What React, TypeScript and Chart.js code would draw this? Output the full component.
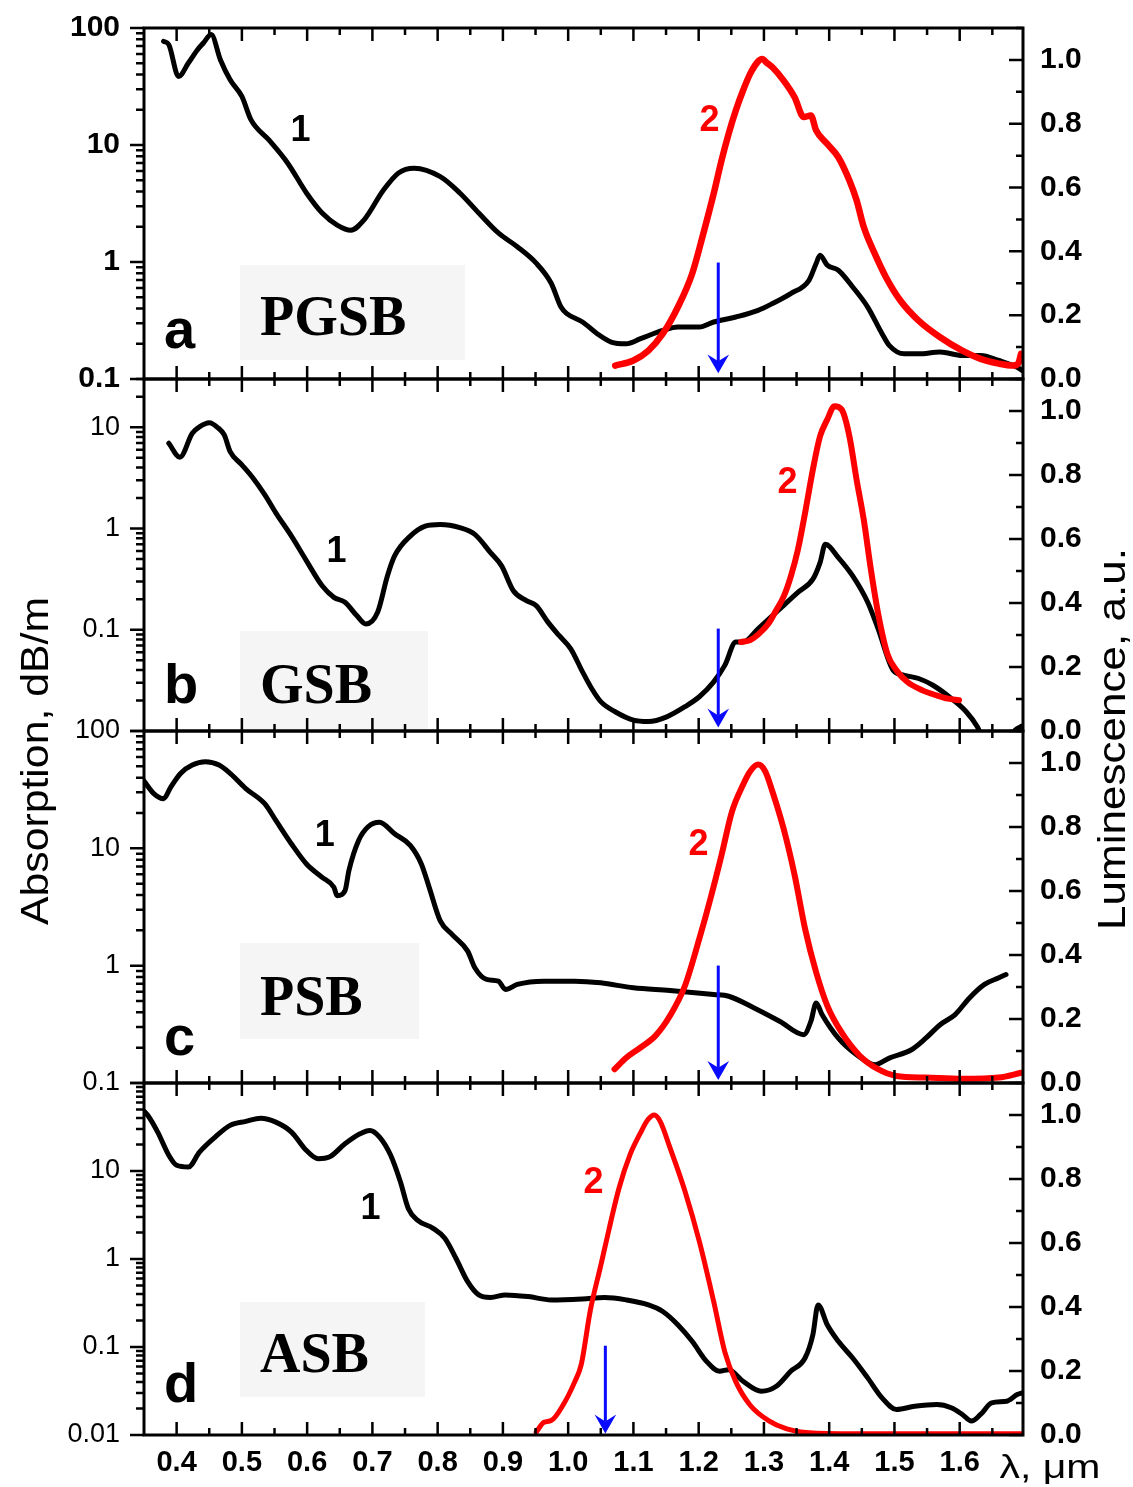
import React, { useEffect, useRef } from "react";
import { Chart, registerables } from "chart.js";

Chart.register(...registerables);

type Pt = [number, number];

// ---------------- data ----------------
const WAVELENGTH_TICKS = [0.4, 0.5, 0.6, 0.7, 0.8, 0.9, 1.0, 1.1, 1.2, 1.3, 1.4, 1.5, 1.6];
const LUM_TICKS = [0, 0.2, 0.4, 0.6, 0.8, 1.0];
const ABS_TICKS_A = [0.1, 1, 10, 100];
const ABS_TICKS_B = [0.1, 1, 10];
const ABS_TICKS_C = [0.1, 1, 10, 100];
const ABS_TICKS_D = [0.01, 0.1, 1, 10];
const SAMPLE_NAMES = ["PGSB", "GSB", "PSB", "ASB"];
const PANEL_LETTERS = ["a", "b", "c", "d"];

// curve 1: absorption (dB/m), curve 2: luminescence (a.u.)
const ABS_A: Pt[] = [
  [0.380, 76.9], [0.388, 72.1], [0.403, 38.5], [0.418, 50.2], [0.432, 65.3], [0.441, 74.5],
  [0.453, 87.8], [0.467, 53.6], [0.482, 36.1], [0.500, 26.0], [0.514, 16.4], [0.541, 11.1],
  [0.570, 7.02], [0.599, 3.89], [0.623, 2.62], [0.646, 2.07], [0.667, 1.87], [0.687, 2.28],
  [0.717, 4.12], [0.740, 5.77], [0.764, 6.33], [0.804, 5.36], [0.834, 3.89], [0.863, 2.62],
  [0.893, 1.77], [0.922, 1.35], [0.951, 0.977], [0.974, 0.658], [0.989, 0.412], [0.998, 0.362],
  [1.022, 0.307], [1.044, 0.245], [1.066, 0.207], [1.089, 0.200], [1.111, 0.221], [1.145, 0.260],
  [1.168, 0.278], [1.201, 0.278], [1.223, 0.307], [1.257, 0.339], [1.291, 0.386], [1.313, 0.441],
  [1.341, 0.537], [1.369, 0.698], [1.380, 0.971], [1.386, 1.143], [1.397, 0.939], [1.414, 0.851],
  [1.436, 0.612], [1.459, 0.412], [1.481, 0.244], [1.492, 0.194], [1.515, 0.164], [1.537, 0.164],
  [1.570, 0.170], [1.604, 0.159], [1.632, 0.159], [1.660, 0.144], [1.688, 0.126], [1.696, 0.118],
];
const LUM_A: Pt[] = [
  [1.072, 0.042], [1.100, 0.058], [1.123, 0.089], [1.145, 0.142], [1.168, 0.225], [1.190, 0.330],
  [1.207, 0.455], [1.223, 0.581], [1.235, 0.685], [1.246, 0.769], [1.257, 0.842], [1.268, 0.904],
  [1.279, 0.957], [1.291, 0.995], [1.297, 1.003], [1.305, 0.990], [1.313, 0.977], [1.330, 0.936],
  [1.347, 0.883], [1.361, 0.821], [1.372, 0.826], [1.380, 0.779], [1.397, 0.737], [1.414, 0.695],
  [1.431, 0.622], [1.442, 0.560], [1.453, 0.476], [1.470, 0.392], [1.487, 0.319], [1.509, 0.246],
  [1.537, 0.183], [1.570, 0.131], [1.604, 0.089], [1.632, 0.063], [1.660, 0.048], [1.682, 0.042],
  [1.690, 0.050], [1.694, 0.079],
];
const ABS_B: Pt[] = [
  [0.388, 6.96], [0.405, 5.07], [0.424, 8.73], [0.435, 10.1], [0.450, 11.1], [0.464, 9.8],
  [0.473, 8.4], [0.482, 5.75], [0.500, 4.26], [0.517, 3.16], [0.535, 2.16], [0.552, 1.43],
  [0.576, 0.841], [0.599, 0.479], [0.623, 0.272], [0.641, 0.209], [0.658, 0.187], [0.676, 0.138],
  [0.690, 0.114], [0.708, 0.149], [0.723, 0.340], [0.734, 0.536], [0.758, 0.841], [0.781, 1.057],
  [0.804, 1.097], [0.834, 1.02], [0.857, 0.875], [0.881, 0.578], [0.898, 0.428], [0.916, 0.243],
  [0.936, 0.194], [0.951, 0.173], [0.969, 0.119], [0.986, 0.0878], [1.004, 0.0649], [1.022, 0.0384],
  [1.036, 0.0263], [1.050, 0.0195], [1.072, 0.0155], [1.100, 0.0128], [1.123, 0.0124], [1.151, 0.0138],
  [1.179, 0.0174], [1.201, 0.0218], [1.223, 0.0306], [1.240, 0.0445], [1.257, 0.0755], [1.268, 0.0755],
  [1.291, 0.102], [1.324, 0.160], [1.352, 0.234], [1.375, 0.316], [1.386, 0.461], [1.394, 0.698],
  [1.414, 0.516], [1.436, 0.340], [1.459, 0.187], [1.475, 0.102], [1.498, 0.0398], [1.515, 0.0355],
  [1.537, 0.033], [1.559, 0.0283], [1.587, 0.021], [1.610, 0.0155], [1.627, 0.011], [1.635, 0.0085],
  [1.650, 0.006], [1.672, 0.007], [1.685, 0.0102], [1.696, 0.0112],
];
const LUM_B: Pt[] = [
  [1.265, 0.278], [1.279, 0.284], [1.293, 0.305], [1.307, 0.336], [1.319, 0.378], [1.330, 0.419],
  [1.341, 0.482], [1.352, 0.566], [1.363, 0.681], [1.375, 0.817], [1.386, 0.921], [1.397, 0.973],
  [1.408, 1.015], [1.419, 1.005], [1.431, 0.921], [1.442, 0.785], [1.453, 0.660], [1.464, 0.503],
  [1.475, 0.367], [1.489, 0.242], [1.503, 0.190], [1.520, 0.153], [1.543, 0.127], [1.565, 0.111],
  [1.582, 0.101], [1.599, 0.096],
];
const ABS_C: Pt[] = [
  [0.350, 37.5], [0.365, 29.3], [0.380, 26.5], [0.391, 33.3], [0.406, 43.5], [0.424, 51.2],
  [0.444, 54.6], [0.465, 51.2], [0.482, 43.5], [0.506, 32.3], [0.535, 24.0], [0.552, 17.3],
  [0.576, 10.9], [0.599, 7.36], [0.623, 5.66], [0.641, 4.65], [0.646, 3.95], [0.658, 4.35],
  [0.664, 6.46], [0.679, 11.7], [0.693, 15.2], [0.711, 16.7], [0.734, 13.3], [0.758, 10.6],
  [0.775, 7.36], [0.787, 4.65], [0.804, 2.41], [0.822, 1.85], [0.846, 1.33], [0.857, 0.96],
  [0.875, 0.763], [0.893, 0.738], [0.904, 0.627], [0.922, 0.692], [0.963, 0.738], [1.010, 0.738],
  [1.050, 0.714], [1.100, 0.647], [1.156, 0.615], [1.223, 0.568], [1.246, 0.549], [1.285, 0.436],
  [1.324, 0.336], [1.361, 0.258], [1.372, 0.336], [1.380, 0.481], [1.389, 0.383], [1.414, 0.241],
  [1.442, 0.174], [1.470, 0.143], [1.492, 0.163], [1.526, 0.192], [1.548, 0.241], [1.570, 0.314],
  [1.593, 0.383], [1.615, 0.531], [1.638, 0.692], [1.660, 0.788], [1.671, 0.841],
];
const LUM_C: Pt[] = [
  [1.071, 0.043], [1.089, 0.079], [1.111, 0.111], [1.134, 0.148], [1.156, 0.210], [1.179, 0.304],
  [1.201, 0.451], [1.218, 0.576], [1.235, 0.712], [1.251, 0.848], [1.268, 0.932], [1.279, 0.974],
  [1.291, 0.995], [1.302, 0.974], [1.313, 0.911], [1.330, 0.796], [1.347, 0.650], [1.363, 0.482],
  [1.380, 0.346], [1.397, 0.242], [1.419, 0.158], [1.447, 0.085], [1.475, 0.043], [1.503, 0.022],
  [1.548, 0.017], [1.604, 0.013], [1.660, 0.017], [1.694, 0.032],
];
const ABS_D: Pt[] = [
  [0.350, 48], [0.356, 42.8], [0.371, 27.7], [0.388, 15.1], [0.400, 11.6], [0.418, 11.1],
  [0.435, 16.4], [0.459, 24.3], [0.482, 33.0], [0.506, 36.6], [0.529, 39.8], [0.552, 35.9],
  [0.576, 27.7], [0.599, 17.1], [0.617, 13.8], [0.634, 14.4], [0.658, 20.4], [0.681, 26.5],
  [0.696, 28.9], [0.711, 24.3], [0.728, 15.1], [0.743, 7.50], [0.755, 3.75], [0.769, 2.77],
  [0.793, 2.23], [0.811, 1.72], [0.828, 1.02], [0.846, 0.553], [0.863, 0.391], [0.881, 0.365],
  [0.904, 0.391], [0.939, 0.374], [0.974, 0.343], [1.022, 0.352], [1.056, 0.365], [1.089, 0.343],
  [1.123, 0.301], [1.145, 0.253], [1.168, 0.179], [1.190, 0.116], [1.212, 0.0687], [1.232, 0.053],
  [1.246, 0.0553], [1.268, 0.0408], [1.296, 0.0314], [1.319, 0.0358], [1.341, 0.053], [1.363, 0.075],
  [1.375, 0.138], [1.383, 0.301], [1.397, 0.179], [1.414, 0.116], [1.436, 0.075], [1.459, 0.0446],
  [1.481, 0.0264], [1.503, 0.0195], [1.531, 0.0212], [1.565, 0.0222], [1.587, 0.0204], [1.604, 0.0171],
  [1.618, 0.0144], [1.632, 0.0171], [1.649, 0.0232], [1.672, 0.0242], [1.688, 0.0288], [1.696, 0.0301],
];
const LUM_D: Pt[] = [
  [0.951, 0.009], [0.963, 0.040], [0.974, 0.045], [0.992, 0.093], [1.010, 0.166], [1.020, 0.220],
  [1.034, 0.390], [1.050, 0.530], [1.056, 0.584], [1.078, 0.772], [1.095, 0.877], [1.111, 0.945],
  [1.122, 0.985], [1.132, 1.000], [1.141, 0.980], [1.156, 0.898], [1.179, 0.762], [1.201, 0.605],
  [1.223, 0.417], [1.240, 0.260], [1.257, 0.166], [1.279, 0.093], [1.307, 0.045], [1.335, 0.019],
  [1.369, 0.007], [1.436, 0.004], [1.548, 0.004], [1.696, 0.004],
];

// annotation anchors (data units): label "1" on absorption axis, label "2" on luminescence axis
const CURVE1_LABEL_AT: Pt[] = [[0.590, 14.0], [0.645, 0.623], [0.627, 13.6], [0.697, 3.98]];
const CURVE2_LABEL_AT: Pt[] = [[1.2165, 0.817], [1.336, 0.785], [1.1996, 0.754], [1.0388, 0.798]];
const PUMP_WAVELENGTH = [1.23, 1.23, 1.23, 1.057];
const PUMP_ARROW_SPAN: Pt[] = [[0.365, 0.024], [0.32, 0.017], [0.367, 0.016], [0.279, 0.011]];

// ---------------- layout / style ----------------
const W = 1133;
const H = 1487;
const OFF = 80; // canvases start above the page so label overflow never pushes the plot area
const CH = H + OFF;
const X_MIN = 0.35;
const X_MAX = 1.697;
const PLOT_LEFT = 144;
const PLOT_RIGHT = 1023;
const X_AXIS_H = 40;
const RED = "#ff0000";
const BLUE = "#0a0aff";
const BOX_FILL = "#f5f5f5";
const SANS = '"Liberation Sans", Arial, Helvetica, sans-serif';
const SERIF = '"Liberation Serif", "Times New Roman", serif';

interface Panel {
  idx: number;
  top: number;
  bottom: number;
  yMin: number;
  yMax: number;
  absTicks: number[];
  leftBold: boolean;
  abs: Pt[];
  lum: Pt[];
  redWidth: number;
  boxW: number;
  boxRise: number;
  boxH: number;
  nameBase: number;
  letterRise: number;
}

const PANELS: Panel[] = [
  { idx: 0, top: 28, bottom: 379, yMin: 0.1, yMax: 100, absTicks: ABS_TICKS_A, leftBold: true, abs: ABS_A, lum: LUM_A, redWidth: 6.5, boxW: 225, boxRise: 114, boxH: 95, nameBase: 70, letterRise: 31 },
  { idx: 1, top: 379, bottom: 731, yMin: 0.01, yMax: 30, absTicks: ABS_TICKS_B, leftBold: false, abs: ABS_B, lum: LUM_B, redWidth: 6, boxW: 188, boxRise: 100, boxH: 98, nameBase: 72, letterRise: 28 },
  { idx: 2, top: 731, bottom: 1083, yMin: 0.1, yMax: 100, absTicks: ABS_TICKS_C, leftBold: false, abs: ABS_C, lum: LUM_C, redWidth: 6, boxW: 179, boxRise: 140, boxH: 96, nameBase: 72, letterRise: 28 },
  { idx: 3, top: 1083, bottom: 1435, yMin: 0.01, yMax: 100, absTicks: ABS_TICKS_D, leftBold: false, abs: ABS_D, lum: LUM_D, redWidth: 5, boxW: 185, boxRise: 133, boxH: 95, nameBase: 70, letterRise: 33 },
];

function fmtAbs(v: number): string {
  return v >= 1 ? String(Math.round(v)) : String(v);
}

function stretchedText(ctx: CanvasRenderingContext2D, text: string, x: number, y: number, font: string, targetLen: number, rotate: boolean) {
  ctx.save();
  ctx.font = font;
  const w = ctx.measureText(text).width;
  ctx.translate(x, y);
  if (rotate) ctx.rotate(-Math.PI / 2);
  ctx.scale(targetLen / w, 1);
  ctx.textAlign = "center";
  ctx.textBaseline = "alphabetic";
  ctx.fillStyle = "#000";
  ctx.fillText(text, 0, 0);
  ctx.restore();
}

function makeDecor(p: Panel, isLast: boolean) {
  return {
    id: "panelDecor" + p.idx,
    beforeDatasetsDraw(chart: any) {
      const { ctx, chartArea: ca } = chart;
      ctx.save();
      const bx = ca.left + 96;
      const by = ca.bottom - p.boxRise;
      ctx.fillStyle = BOX_FILL;
      ctx.fillRect(bx, by, p.boxW, p.boxH);
      ctx.fillStyle = "#000";
      ctx.textAlign = "left";
      ctx.textBaseline = "alphabetic";
      ctx.font = `bold 56px ${SERIF}`;
      ctx.fillText(SAMPLE_NAMES[p.idx], bx + 20, by + p.nameBase);
      ctx.font = `bold 56px ${SANS}`;
      ctx.fillText(PANEL_LETTERS[p.idx], ca.left + 20, ca.bottom - p.letterRise);
      ctx.restore();
    },
    afterDatasetsDraw(chart: any) {
      const { ctx, chartArea: ca, scales } = chart;
      const xs = scales.x;
      const yl = scales.y;
      const yr = scales.y2;
      ctx.save();

      // pump arrow
      const ax = xs.getPixelForValue(PUMP_WAVELENGTH[p.idx]);
      const ay0 = yr.getPixelForValue(PUMP_ARROW_SPAN[p.idx][0]);
      const ay1 = yr.getPixelForValue(PUMP_ARROW_SPAN[p.idx][1]);
      ctx.strokeStyle = BLUE;
      ctx.fillStyle = BLUE;
      ctx.lineWidth = 3;
      ctx.beginPath();
      ctx.moveTo(ax, ay0);
      ctx.lineTo(ax, ay1 - 10);
      ctx.stroke();
      ctx.beginPath();
      ctx.moveTo(ax - 8, ay1 - 14);
      ctx.lineTo(ax, ay1 - 9);
      ctx.lineTo(ax + 8, ay1 - 14);
      ctx.lineTo(ax, ay1);
      ctx.closePath();
      ctx.fill();
      ctx.lineWidth = 2;
      ctx.stroke();

      // curve labels
      ctx.font = `bold 36px ${SANS}`;
      ctx.textAlign = "center";
      ctx.textBaseline = "alphabetic";
      ctx.fillStyle = "#000";
      const l1 = CURVE1_LABEL_AT[p.idx];
      ctx.fillText("1", xs.getPixelForValue(l1[0]), yl.getPixelForValue(l1[1]) + 13);
      ctx.fillStyle = RED;
      const l2 = CURVE2_LABEL_AT[p.idx];
      ctx.fillText("2", xs.getPixelForValue(l2[0]), yr.getPixelForValue(l2[1]) + 13);

      // ticks
      ctx.strokeStyle = "#000";
      ctx.lineWidth = 2.5;
      ctx.beginPath();
      for (let k = 7; k <= 34; k++) {
        const v = k * 0.05;
        const px = xs.getPixelForValue(v);
        if (px <= ca.left + 2 || px >= ca.right - 2) continue;
        const len = k % 2 === 0 ? 13 : 7;
        ctx.moveTo(px, ca.top);
        ctx.lineTo(px, ca.top + len);
        ctx.moveTo(px, ca.bottom);
        ctx.lineTo(px, ca.bottom - len);
      }
      const d0 = Math.floor(Math.log10(p.yMin));
      const d1 = Math.ceil(Math.log10(p.yMax));
      for (let d = d0; d <= d1; d++) {
        for (let m = 1; m <= 9; m++) {
          const v = m * Math.pow(10, d);
          if (v < p.yMin * 0.999 || v > p.yMax * 1.001) continue;
          const py = yl.getPixelForValue(v);
          const len = m === 1 ? 14 : 8;
          ctx.moveTo(ca.left, py);
          ctx.lineTo(ca.left - len, py);
        }
      }
      for (let k = 0; k <= 11; k++) {
        const v = k * 0.1;
        if (v > 1.1) continue;
        const py = yr.getPixelForValue(v);
        const len = k % 2 === 0 ? 14 : 7;
        ctx.moveTo(ca.right, py);
        ctx.lineTo(ca.right - len, py);
      }
      ctx.stroke();

      // frame
      ctx.lineWidth = 3;
      ctx.strokeRect(ca.left, ca.top, ca.right - ca.left, ca.bottom - ca.top);
      ctx.restore();

      if (isLast) {
        stretchedText(ctx, "Absorption, dB/m", 48, 761 + OFF, `38px ${SANS}`, 328, true);
        stretchedText(ctx, "Luminescence, a.u.", 1125, 739 + OFF, `38px ${SANS}`, 382, true);
        stretchedText(ctx, "λ, μm", 1050, 1478 + OFF, `34px ${SANS}`, 101, false);
      }
    },
  };
}

function PanelChart({ p, isLast }: { p: Panel; isLast: boolean }) {
  const ref = useRef<HTMLCanvasElement>(null);
  useEffect(() => {
    if (!ref.current) return;
    const lineStyle = {
      pointRadius: 0,
      cubicInterpolationMode: "monotone",
      borderJoinStyle: "round",
      borderCapStyle: "round",
    };
    const chart = new Chart(ref.current, {
      type: "line",
      data: {
        datasets: [
          {
            ...lineStyle,
            data: p.abs.map(([x, y]) => ({ x, y })),
            yAxisID: "y",
            borderColor: "#000",
            borderWidth: 5,
            order: 1,
          } as any,
          {
            ...lineStyle,
            data: p.lum.map(([x, y]) => ({ x, y })),
            yAxisID: "y2",
            borderColor: RED,
            borderWidth: p.redWidth,
            order: 0,
          } as any,
        ],
      },
      options: {
        animation: false,
        responsive: false,
        devicePixelRatio: 1,
        events: [],
        plugins: { legend: { display: false }, tooltip: { enabled: false } },
        layout: {
          padding: {
            top: p.top + OFF,
            bottom: isLast ? H - p.bottom - X_AXIS_H : H - p.bottom,
            left: 0,
            right: 0,
          },
        },
        scales: {
          x: {
            type: "linear",
            min: X_MIN,
            max: X_MAX,
            display: isLast,
            grid: { display: false, drawTicks: false },
            border: { display: false },
            afterBuildTicks: (s: any) => {
              s.ticks = WAVELENGTH_TICKS.map((v) => ({ value: v }));
            },
            afterFit: (s: any) => {
              s.height = isLast ? X_AXIS_H : 0;
            },
            ticks: {
              autoSkip: false,
              maxRotation: 0,
              padding: 11,
              color: "#000",
              font: { family: SANS, size: 29, weight: "bold" },
              callback: (v: any) => Number(v).toFixed(1),
            },
          },
          y: {
            type: "logarithmic",
            position: "left",
            min: p.yMin,
            max: p.yMax,
            grid: { display: false, drawTicks: false },
            border: { display: false },
            afterBuildTicks: (s: any) => {
              s.ticks = p.absTicks.map((v) => ({ value: v }));
            },
            afterFit: (s: any) => {
              s.width = PLOT_LEFT;
            },
            ticks: {
              autoSkip: false,
              padding: 24,
              color: "#000",
              font: { family: SANS, size: p.leftBold ? 30 : 27, weight: p.leftBold ? "bold" : "normal" },
              callback: (v: any) => fmtAbs(Number(v)),
            },
          },
          y2: {
            type: "linear",
            position: "right",
            min: 0,
            max: 1.1,
            grid: { display: false, drawTicks: false },
            border: { display: false },
            afterBuildTicks: (s: any) => {
              s.ticks = LUM_TICKS.map((v) => ({ value: v }));
            },
            afterFit: (s: any) => {
              s.width = W - PLOT_RIGHT;
            },
            ticks: {
              autoSkip: false,
              padding: 17,
              color: "#000",
              font: { family: SANS, size: 30, weight: "bold" },
              callback: (v: any) => Number(v).toFixed(1),
            },
          },
        },
      } as any,
      plugins: [makeDecor(p, isLast)],
    });
    return () => chart.destroy();
  }, [p, isLast]);
  return (
    <canvas
      ref={ref}
      width={W}
      height={CH}
      style={{ position: "absolute", left: 0, top: -OFF, width: W, height: CH }}
    />
  );
}

export default function App() {
  return (
    <div style={{ position: "absolute", left: 0, top: 0, width: W, height: H, background: "#fff", overflow: "hidden" }}>
      {PANELS.map((p, i) => (
        <PanelChart key={i} p={p} isLast={i === PANELS.length - 1} />
      ))}
    </div>
  );
}
